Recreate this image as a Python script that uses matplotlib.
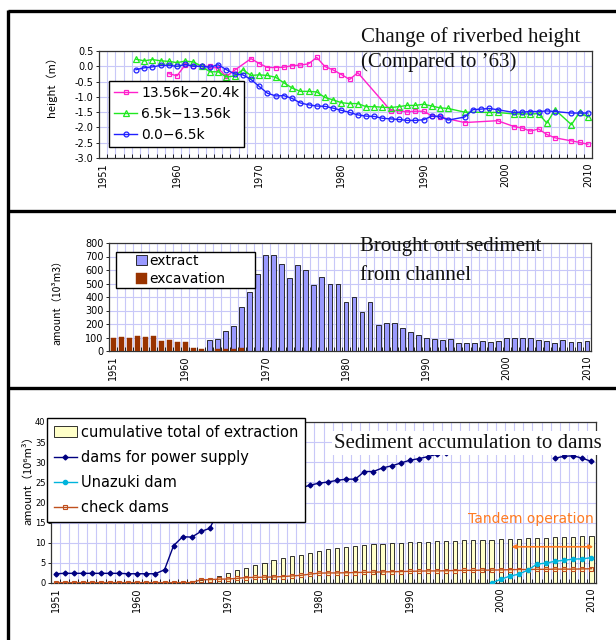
import matplotlib
matplotlib.use('Agg')
import matplotlib.pyplot as plt
from matplotlib.lines import Line2D
from matplotlib.patches import Rectangle
import numpy as np

plt.rcParams['font.family'] = ['DejaVu Sans', 'Noto Sans CJK JP']
plt.rcParams['axes.unicode_minus'] = True

# ---------------- data ----------------
xtick_years = [1951, 1960, 1970, 1980, 1990, 2000, 2010]

# Panel 1: change of riverbed height (m)
pink_years = [1959, 1960, 1961, 1962, 1963, 1964, 1965, 1966, 1967, 1969, 1970, 1971, 1972,
              1973, 1974, 1975, 1976, 1977, 1978, 1979, 1980, 1981, 1982, 1986, 1987, 1988,
              1989, 1990, 1991, 1992, 1995, 1999, 2001, 2002, 2003, 2004, 2005, 2006, 2008,
              2009, 2010]
pink_vals = [-0.24, -0.31, 0.05, 0.0, 0.0, 0.0, -0.07, -0.33, -0.13, 0.25, 0.09, -0.04, -0.04,
             -0.03, 0.02, 0.04, 0.08, 0.29, -0.01, -0.12, -0.27, -0.43, -0.21, -1.45, -1.46, -1.49,
             -1.47, -1.47, -1.62, -1.66, -1.84, -1.78, -1.97, -2.02, -2.12, -2.05, -2.23, -2.34,
             -2.44, -2.49, -2.55]

green_years = [1955, 1956, 1957, 1958, 1959, 1960, 1961, 1962, 1963, 1964, 1965, 1966, 1967,
               1968, 1969, 1970, 1971, 1972, 1973, 1974, 1975, 1976, 1977, 1978, 1979, 1980,
               1981, 1982, 1983, 1984, 1985, 1986, 1987, 1988, 1989, 1990, 1991, 1992, 1993,
               1995, 1998, 1999, 2001, 2002, 2003, 2004, 2005, 2006, 2008, 2009, 2010]
green_vals = [0.23, 0.18, 0.22, 0.18, 0.16, 0.12, 0.17, 0.14, 0.0, -0.18, -0.18, -0.35, -0.32,
              -0.11, -0.30, -0.28, -0.30, -0.36, -0.54, -0.71, -0.82, -0.82, -0.84, -1.02, -1.10,
              -1.19, -1.22, -1.22, -1.32, -1.32, -1.34, -1.35, -1.32, -1.28, -1.28, -1.24, -1.30,
              -1.36, -1.38, -1.50, -1.51, -1.51, -1.56, -1.56, -1.56, -1.55, -1.86, -1.42, -1.91,
              -1.50, -1.66]

blue_years = [1955, 1956, 1957, 1958, 1959, 1960, 1961, 1962, 1963, 1964, 1965, 1966, 1967,
              1968, 1969, 1970, 1971, 1972, 1973, 1974, 1975, 1976, 1977, 1978, 1979, 1980,
              1981, 1982, 1983, 1984, 1985, 1986, 1987, 1988, 1989, 1990, 1991, 1992, 1993,
              1995, 1996, 1997, 1998, 1999, 2001, 2002, 2003, 2004, 2005, 2006, 2008, 2009, 2010]
blue_vals = [-0.11, -0.05, -0.02, 0.03, 0.03, 0.0, 0.06, 0.0, 0.0, -0.03, 0.05, -0.11, -0.25,
             -0.28, -0.43, -0.66, -0.88, -0.97, -0.96, -1.05, -1.20, -1.26, -1.30, -1.31, -1.37,
             -1.44, -1.51, -1.59, -1.63, -1.64, -1.70, -1.72, -1.74, -1.77, -1.77, -1.75, -1.63,
             -1.64, -1.76, -1.66, -1.42, -1.40, -1.38, -1.42, -1.51, -1.50, -1.48, -1.48, -1.46,
             -1.48, -1.53, -1.53, -1.53]

# Panel 2: brought out sediment (10^3 m3)
extract_years = list(range(1963, 2011))
extract_vals = [85, 92, 148, 188, 325, 438, 570, 710, 712, 648, 540, 635, 598, 488, 545, 498,
                498, 366, 402, 290, 363, 195, 205, 205, 170, 142, 122, 100, 88, 82, 92, 60,
                60, 60, 72, 70, 72, 100, 100, 100, 95, 80, 72, 60, 80, 65, 65, 75]
excav_years = [1951, 1952, 1953, 1954, 1955, 1956, 1957, 1958, 1959, 1960, 1961, 1962,
               1964, 1965, 1966, 1967]
excav_vals = [100, 105, 100, 110, 105, 110, 75, 85, 70, 65, 22, 15, 15, 15, 15, 20]

# Panel 3: sediment accumulation (10^6 m3)
cum_years = list(range(1967, 2011))
cum_vals = [0.65, 1.05, 1.7, 2.4, 3.2, 3.85, 4.35, 5.0, 5.6, 6.1, 6.6, 7.05, 7.5, 7.95, 8.35,
            8.7, 9.05, 9.25, 9.4, 9.6, 9.75, 9.9, 10.05, 10.15, 10.25, 10.3, 10.4, 10.45,
            10.55, 10.6, 10.7, 10.75, 10.8, 10.9, 11.0, 11.05, 11.15, 11.2, 11.3, 11.35,
            11.45, 11.5, 11.6, 11.65]
power_years_a = list(range(1951, 1995))
power_vals_a = [2.3, 2.4, 2.4, 2.4, 2.4, 2.4, 2.4, 2.4, 2.3, 2.3, 2.3, 2.3, 3.3, 9.3, 11.5,
                11.4, 12.8, 13.6, 18.5, 20.0, 20.5, 21.0, 21.3, 21.6, 22.0, 22.7, 23.1, 23.6,
                24.3, 24.8, 25.1, 25.5, 25.8, 25.8, 27.7, 27.7, 28.6, 29.1, 29.8, 30.5, 30.9,
                31.4, 32.0, 32.2]
power_years_b = [2006, 2007, 2008, 2009, 2010]
power_vals_b = [31.0, 31.5, 31.6, 31.0, 30.2]
unazuki_years = list(range(1999, 2011))
unazuki_vals = [0.0, 0.9, 1.7, 2.2, 3.2, 4.7, 4.95, 5.4, 5.65, 5.95, 6.0, 6.3]
check_years = list(range(1951, 2011))
check_vals = [0.1] * 16 + [0.8, 0.85, 0.95, 1.0, 1.15, 1.35, 1.4, 1.45, 1.5, 1.6, 1.75, 1.9,
                           2.2, 2.45, 2.5, 2.5, 2.55, 2.6, 2.65, 2.7, 2.75, 2.8, 2.85, 2.9,
                           2.95, 3.0, 3.0, 3.05, 3.1, 3.15, 3.15, 3.2, 3.2, 3.25, 3.3, 3.35,
                           3.35, 3.4, 3.4, 3.45, 3.45, 3.45, 3.5, 3.55]

# ---------------- figure ----------------
W, H = 616, 640
fig = plt.figure(figsize=(W / 100, H / 100), dpi=100)


def px_axes(l, t, r, b):
    return fig.add_axes([l / W, 1 - b / H, (r - l) / W, (b - t) / H])


GRID = '#C8C8F8'
SERIF = 'Liberation Serif'


def style_axes(ax, yticks, ylim, tick_fs):
    ax.set_xlim(1950.5, 2010.5)
    ax.set_ylim(*ylim)
    ax.set_yticks(yticks)
    ax.set_xticks(xtick_years)
    ax.set_xticklabels([str(y) for y in xtick_years], rotation=90, fontsize=7)
    ax.set_xticks(np.arange(1950.5, 2011, 1.0), minor=True)
    for v in np.arange(1951.5, 2010.5, 1.0):
        ax.axvline(v, color=GRID, lw=0.8, zorder=0)
    for v in yticks:
        ax.axhline(v, color=GRID, lw=0.8, zorder=0)
    ax.tick_params(axis='x', which='major', length=0, pad=3)
    ax.tick_params(axis='x', which='minor', length=3, direction='in', width=0.6)
    ax.tick_params(axis='y', labelsize=tick_fs, length=2, width=0.6, pad=2)
    for s in ax.spines.values():
        s.set_color('#333333')
        s.set_linewidth(0.9)


# panel borders
def fig_line(x0, y0, x1, y1):
    fig.add_artist(Line2D([x0 / W, x1 / W], [1 - y0 / H, 1 - y1 / H], color='black',
                          lw=2.4, solid_capstyle='butt', transform=fig.transFigure))


fig_line(8, 11, W, 11)
fig_line(8, 211, W, 211)
fig_line(8, 388, W, 388)
fig_line(8, 10, 8, H)

# ---- Panel 1 ----
ax1 = px_axes(99, 51, 592, 158)
style_axes(ax1, np.arange(-3.0, 0.51, 0.5), (-3.0, 0.5), 7)
ax1.set_yticklabels(['%.1f' % v for v in np.arange(-3.0, 0.51, 0.5)])
l_p, = ax1.plot(pink_years, pink_vals, color='#FF20CC', lw=1, marker='s', ms=3.5,
                mfc='none', mew=0.9, label='13.56k\u221220.4k')
l_g, = ax1.plot(green_years, green_vals, color='#20E820', lw=1, marker='^', ms=3.8,
                mfc='none', mew=0.9, label='6.5k\u221213.56k')
l_b, = ax1.plot(blue_years, blue_vals, color='#2020FF', lw=1, marker='o', ms=3.5,
                mfc='none', mew=0.9, label='0.0\u22126.5k')
leg1 = ax1.legend(handles=[l_p, l_g, l_b], loc='upper left', bbox_to_anchor=(0.02, 0.72),
                  borderaxespad=0, fontsize=10, fancybox=False, edgecolor='black',
                  framealpha=1, handlelength=1.7, handletextpad=0.3, labelspacing=0.5,
                  borderpad=0.35)
leg1.get_frame().set_linewidth(1.0)
fig.text(51 / W, 1 - 84 / H, 'height（m）', rotation=90, fontsize=8, ha='center', va='center',
         family=['Noto Sans CJK JP', 'DejaVu Sans'])
fig.text(361 / W, 1 - 37 / H, 'Change of riverbed height', fontsize=15, family=SERIF,
         ha='left', va='center', color='#111111')
fig.text(361 / W, 1 - 62 / H, '(Compared to \u201963)', fontsize=15, family=SERIF,
         ha='left', va='center', color='#111111')

# ---- Panel 2 ----
ax2 = px_axes(109, 243, 591, 351)
style_axes(ax2, np.arange(0, 801, 100), (0, 800), 7)
b_ex = ax2.bar(extract_years, extract_vals, width=0.6, color='#9999FF', edgecolor='#111111',
               linewidth=0.6, zorder=2, label='extract')
b_cv = ax2.bar(excav_years, excav_vals, width=0.62, color='#993300', edgecolor='#993300',
               linewidth=0.3, zorder=3, label='excavation')
ax2.add_patch(Rectangle((0.0145, 0.583), 0.289, 0.334, transform=ax2.transAxes,
                        facecolor='white', edgecolor='black', lw=1.0, zorder=8))
leg2 = ax2.legend(handles=[b_ex, b_cv], loc='center left', bbox_to_anchor=(0.055, 0.75),
                  borderaxespad=0, fontsize=10, frameon=False, handlelength=0.8,
                  handleheight=0.8, handletextpad=0.2, labelspacing=0.3, borderpad=0.0)
leg2.set_zorder(9)
fig.text(57 / W, 1 - 300 / H, 'amount（10³m3）', rotation=90, fontsize=7.5, ha='center',
         va='center', family=['Noto Sans CJK JP', 'DejaVu Sans'])
fig.text(360 / W, 1 - 247 / H, 'Brought out sediment', fontsize=15, family=SERIF,
         ha='left', va='center', color='#111111')
fig.text(360 / W, 1 - 275 / H, 'from channel', fontsize=15, family=SERIF,
         ha='left', va='center', color='#111111')

# ---- Panel 3 ----
ax3 = px_axes(51, 422, 596, 583)
style_axes(ax3, np.arange(0, 41, 5), (0, 40), 6)
b_cum = ax3.bar(cum_years, cum_vals, width=0.45, color='#FFFFC8', edgecolor='#111111',
                linewidth=0.6, zorder=2, label='cumulative total of extraction')
l_pw, = ax3.plot(power_years_a, power_vals_a, color='#000080', lw=1, marker='D', ms=2.5,
                 label='dams for power supply', zorder=4)
ax3.plot(power_years_b, power_vals_b, color='#000080', lw=1, marker='D', ms=2.5, zorder=4)
l_un, = ax3.plot(unazuki_years, unazuki_vals, color='#00B4DC', lw=1, marker='o', ms=3,
                 label='Unazuki dam', zorder=4)
l_ck, = ax3.plot(check_years, check_vals, color='#C0501E', lw=1, marker='s', ms=3,
                 mfc='none', mew=0.8, label='check dams', zorder=3)
ax3.annotate('', xy=(2010.2, 9.0), xytext=(2001.2, 9.0),
             arrowprops=dict(arrowstyle='<|-|>', color='#FF7A20', lw=1.2,
                             mutation_scale=6, shrinkA=0, shrinkB=0), zorder=5)
ax3.text(2010.3, 16.0, 'Tandem operation', color='#FF7A20', fontsize=10, ha='right',
         va='center', zorder=5)
leg3 = ax3.legend(handles=[b_cum, l_pw, l_un, l_ck], loc='upper left',
                  bbox_to_anchor=(-0.007, 1.025), borderaxespad=0, fontsize=10.5,
                  fancybox=False, edgecolor='black', framealpha=1, handlelength=1.6,
                  handletextpad=0.3, labelspacing=0.7, borderpad=0.45)
leg3.get_frame().set_linewidth(1.0)
leg3.set_zorder(10)
fig.text(28 / W, 1 - 478 / H, 'amount（10⁶m³）', rotation=90, fontsize=8, ha='center',
         va='center', family=['Noto Sans CJK JP', 'DejaVu Sans'])
fig.text(334 / W, 1 - 443 / H, 'Sediment accumulation to dams', fontsize=15, family=SERIF,
         ha='left', va='center', color='#111111',
         bbox=dict(facecolor='white', edgecolor='none', pad=1.5))

fig.savefig('out.png', dpi=100)
